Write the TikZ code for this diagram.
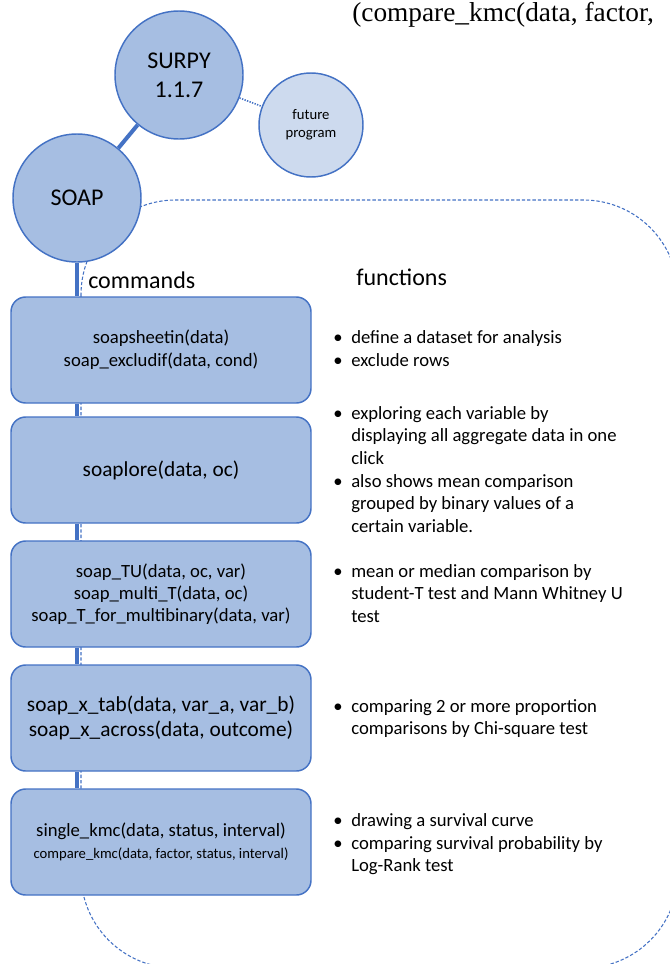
\documentclass[tikz,border=0pt]{standalone}
\usepackage{fontspec}
\setmainfont{Carlito}
\newfontfamily\timesfont{Liberation Serif}
\definecolor{soapfill}{RGB}{166,190,226}
\definecolor{soapline}{RGB}{68,114,196}
\definecolor{futurefill}{RGB}{205,218,238}
\tikzset{
  bubble/.style={draw=soapline,fill=soapfill,circle,line width=1.1pt,minimum size=96pt,inner sep=0pt,align=center,font=\fontsize{18}{22}\selectfont},
  cmdbox/.style={draw=soapline,fill=soapfill,rounded corners=11pt,line width=1.1pt,minimum width=225pt,minimum height=79.5pt,inner sep=0pt,align=center},
  link/.style={soapline,line width=2.4pt},
  func/.style={anchor=base west,inner sep=0pt,font=\fontsize{14}{17}\selectfont},
  head/.style={anchor=base west,inner sep=0pt,font=\fontsize{18}{22}\selectfont}
}
\newcommand{\fitem}[1]{\makebox[13.5pt][l]{\textbullet}\begin{tabular}[t]{@{}l@{}}#1\end{tabular}}
\begin{document}
\begin{tikzpicture}[x=0.75pt,y=-0.75pt]
        \useasboundingbox (0,0) rectangle (669,964);
        \draw[soapline,line width=0.8pt,dash pattern=on 2.5pt off 1.5pt,rounded corners=71pt] (81,200) rectangle (678,968);
        \node[anchor=base west,inner sep=0pt,font=\timesfont\fontsize{20.5}{25}\selectfont] (cut) at (352,21) {(compare\_kmc(data, factor,};
        \node[bubble] (surpy) at (179,75) {SURPY\\1.1.7};
        \node[bubble,fill=futurefill,minimum size=78pt,font=\fontsize{11}{13.5}\selectfont] (future) at (311,125) {future\\program};
        \node[bubble] (soap) at (77,198) {SOAP};
        \draw[link,line width=3pt] (surpy) -- (soap);
        \draw[soapline,line width=1.2pt,dash pattern=on 1pt off 1pt] (surpy) -- (future);
        \node[head] (commands) at (88,288) {commands};
        \node[head] (functions) at (356,285) {functions};
        \node[cmdbox,font=\fontsize{14}{17}\selectfont] (sheetin) at (161,350) {soapsheetin(data)\\soap\_excludif(data, cond)};
        \node[cmdbox,font=\fontsize{16}{19}\selectfont] (explore) at (161,470) {soaplore(data, oc)};
        \node[cmdbox,font=\fontsize{14}{16.5}\selectfont] (ttest) at (161,594) {soap\_TU(data, oc, var)\\soap\_multi\_T(data, oc)\\soap\_T\_for\_multibinary(data, var)};
        \node[cmdbox,font=\fontsize{16}{18.75}\selectfont] (xtab) at (161,718) {soap\_x\_tab(data, var\_a, var\_b)\\soap\_x\_across(data, outcome)};
        \node[cmdbox,font=\fontsize{14}{17}\selectfont] (kmc) at (161,842) {single\_kmc(data, status, interval)\\{\fontsize{11}{13.5}\selectfont compare\_kmc(data, factor, status, interval)}};
        \draw[link] (soap) -- (soap |- sheetin.north);
        \foreach \a/\b in {sheetin/explore,explore/ttest,ttest/xtab,xtab/kmc}
            \draw[link] (\a.south -| soap) -- (\b.north -| soap);
        \node[func] (f1a) at (333,343) {\fitem{define a dataset for analysis}};
        \node[func] (f1b) at (333,366) {\fitem{exclude rows}};
        \node[func] (f2a) at (333,419) {\fitem{exploring each variable by\\displaying all aggregate data in one\\click}};
        \node[func] (f2b) at (333,487) {\fitem{also shows mean comparison\\grouped by binary values of a\\certain variable.}};
        \node[func] (f3) at (333,577) {\fitem{mean or median comparison by\\student-T test and Mann Whitney U\\test}};
        \node[func] (f4) at (333,712) {\fitem{comparing 2 or more proportion\\comparisons by Chi-square test}};
        \node[func] (f5a) at (333,826) {\fitem{drawing a survival curve}};
        \node[func] (f5b) at (333,849) {\fitem{comparing survival probability by\\Log-Rank test}};
    \end{tikzpicture}
\end{document}
